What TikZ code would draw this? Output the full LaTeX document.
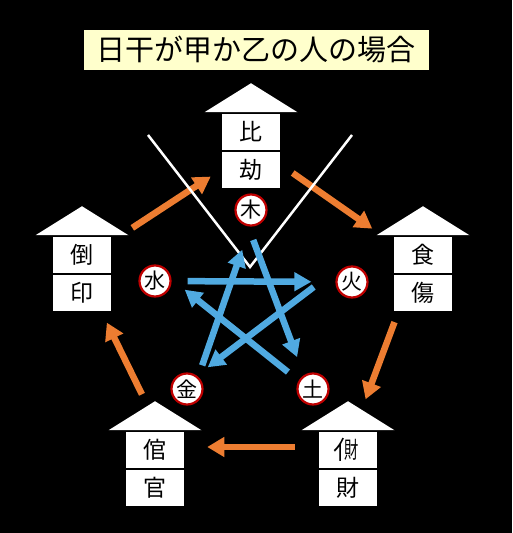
\documentclass[tikz,border=0pt]{standalone}
\usepackage{fontspec}
\setmainfont{Noto Sans CJK JP}
\usepackage{graphicx}
\usepackage{tikz}
\usetikzlibrary{positioning,calc,arrows.meta}

\definecolor{flowOrange}{RGB}{237,125,49}
\definecolor{controlBlue}{RGB}{80,170,225}
\definecolor{ringRed}{RGB}{192,0,0}
\definecolor{titleYellow}{RGB}{255,255,204}

\tikzset{
  cell/.style={rectangle, draw=black, line width=1.5pt, fill=white, minimum width=59pt, minimum height=38pt, inner sep=0pt, font=\fontsize{23}{23}\selectfont},
  element/.style={circle, draw=ringRed, line width=2.2pt, fill=white, minimum size=31pt, inner sep=0pt, font=\fontsize{21}{21}\selectfont},
  flow/.style={line width=6.5pt, flowOrange, -{Triangle[length=17pt,width=19pt]}},
  control/.style={line width=6.5pt, controlBlue, -{Triangle[length=17pt,width=18pt]}},
}

\begin{document}
\begin{tikzpicture}[x=1pt, y=1pt, node distance=38pt]

\fill[black] (0,0) rectangle (512,533);

% Title

\node[rectangle, draw=black, fill=titleYellow, minimum width=346pt, minimum height=41pt, font=\fontsize{29}{29}\selectfont] (Title) at (256,483.5) {日干が甲か乙の人の場合};

% Houses

\node[cell]                          (HikenTop)       at (251,401) {比};
\node[cell, below of=HikenTop]       (HikenBottom)    {劫};

\node[cell]                          (ShokushoTop)    at (423,278) {食};
\node[cell, below of=ShokushoTop]    (ShokushoBottom) {傷};

\node[cell]                          (InTop)          at (82,278) {倒};
\node[cell, below of=InTop]          (InBottom)       {印};

\node[cell]                          (KanTop)         at (155,83) {倌};
\node[cell, below of=KanTop]         (KanBottom)      {官};

\node[cell]                          (ZaiTop)         at (348,83) {\makebox[0.36em][l]{\kern-0.13em\raisebox{-0.04em}{\scalebox{1}[1.1]{亻}}}\makebox[0.64em][l]{\scalebox{0.62}[1]{財}}};
\node[cell, below of=ZaiTop]         (ZaiBottom)      {財};

% Roofs

\fill[white] ($(HikenTop.north)+(-46.5,0)$) -- ($(HikenTop.north)+(0,29)$) -- ($(HikenTop.north)+(46.5,0)$) -- cycle;
\fill[white] ($(ShokushoTop.north)+(-46.5,0)$) -- ($(ShokushoTop.north)+(0,29)$) -- ($(ShokushoTop.north)+(46.5,0)$) -- cycle;
\fill[white] ($(InTop.north)+(-46.5,0)$) -- ($(InTop.north)+(0,29)$) -- ($(InTop.north)+(46.5,0)$) -- cycle;
\fill[white] ($(KanTop.north)+(-46.5,0)$) -- ($(KanTop.north)+(0,29)$) -- ($(KanTop.north)+(46.5,0)$) -- cycle;
\fill[white] ($(ZaiTop.north)+(-46.5,0)$) -- ($(ZaiTop.north)+(0,29)$) -- ($(ZaiTop.north)+(46.5,0)$) -- cycle;

% Elements

\node[element] (WoodNode)  at (251,323) {木};
\node[element] (WaterNode) at (155,252) {水};
\node[element] (FireNode)  at (352,251) {火};
\node[element] (MetalNode) at (187,144) {金};
\node[element] (EarthNode) at (313,144) {土};

% Generating cycle

\draw[flow, shorten <=24pt, shorten >=12pt] ([yshift=14pt]InTop.east) -- (HikenBottom.west);
\draw[flow, shorten <=14pt, shorten >=25pt] ([yshift=5pt]HikenBottom.east) -- ([yshift=12pt]ShokushoTop.west);
\draw[flow, shorten <=10pt, shorten >=33pt] ([xshift=-25pt]ShokushoBottom.south) -- ([xshift=6pt]ZaiTop.north);
\draw[flow, shorten <=23pt, shorten >=22pt] ([yshift=3pt]ZaiTop.west) -- ([yshift=3pt]KanTop.east);
\draw[flow, shorten <=40pt, shorten >=11pt] ([xshift=4.5pt]KanTop.north) -- ([xshift=20pt]InBottom.south);

% V

\coordinate (VLeft)  at (148,398);
\coordinate (VTip)   at (250,266);
\coordinate (VRight) at (352,398);
\draw[white, line width=2.5pt] (VLeft) -- (VTip) -- (VRight);

% Controlling cycle

\draw[control, shorten <=16pt, shorten >=24pt] (WaterNode) -- (FireNode);
\draw[control, shorten <=32pt, shorten >=34pt] ([xshift=-9pt]WoodNode.center) -- ([xshift=-4pt]EarthNode.center);
\draw[control, shorten <=48pt, shorten >=26pt] ([yshift=24pt]FireNode.center) -- ([yshift=6pt]MetalNode.center);
\draw[control, shorten <=32pt, shorten >=38pt] ([yshift=-3pt]EarthNode.center) -- ([yshift=15pt]WaterNode.center);
\draw[control, shorten <=25pt, shorten >=42pt] ([xshift=7pt]MetalNode.center) -- ([xshift=5pt]WoodNode.center);

\end{tikzpicture}
\end{document}
